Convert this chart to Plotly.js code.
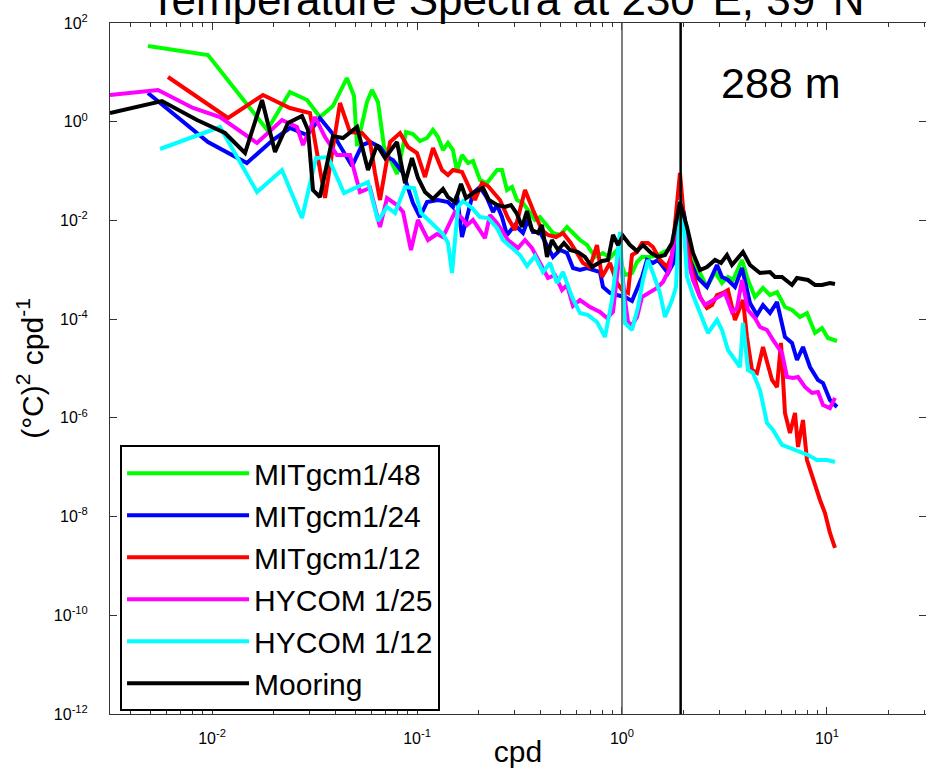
<!DOCTYPE html>
<html>
<head>
<meta charset="utf-8">
<script src="https://cdn.plot.ly/plotly-3.0.1.min.js"></script>
<style>html,body{margin:0;padding:0;background:#fff;}#chart{width:926px;height:768px;}</style>
</head>
<body>
<div id="chart"></div>
<script>
// ---- Series names ----
const seriesNames = ["MITgcm1/48", "MITgcm1/24", "MITgcm1/12", "HYCOM 1/25", "HYCOM 1/12", "Mooring"];
const seriesColors = ["#00ff00", "#0000ff", "#ff0000", "#ff00ff", "#00ffff", "#000000"];

// ---- MITgcm 1/48 ----
const freqMIT48 = [0.00487,0.00956,0.0186,0.0240,0.0291,0.0336,0.0389,0.0455,0.0493,0.0510,0.0570,0.0603,0.0645,0.0690,0.0799,0.0884,0.0956,0.1034,0.1119,0.1197,0.1266,0.1339,0.1416,0.1498,0.1567,0.1658,0.1774,0.1876,0.2029,0.2195,0.2456,0.2597,0.2748,0.2907,0.3075,0.3289,0.3479,0.3763,0.3981,0.4306,0.4606,0.4985,0.5392,0.5768,0.6238,0.675,0.7385,0.8078,0.8739,0.9454,1.034,1.119,1.184,1.252,1.369,1.498,1.676,1.814,1.918,2.006,2.146,2.402,2.597,2.843,3.075,3.289,3.479,3.850,4.118,4.455,4.873,5.272,5.704,6.238,6.750,7.385,7.988,8.739,9.454,10.11,11.19];
const specMIT48 = [34.2,22.4,0.679,4.0,2.75,1.245,2.08,7.68,3.32,0.322,2.51,4.39,2.51,0.322,0.0872,0.618,0.563,0.406,0.468,0.679,0.490,0.267,0.370,0.267,0.1003,0.2115,0.1456,0.160,0.0659,0.0573,0.1051,0.1051,0.0413,0.0475,0.0259,0.0225,0.01626,0.0102,0.01173,0.00808,0.00556,0.00507,0.00736,0.00556,0.00401,0.00318,0.00182,0.00219,0.00173,0.00252,0.000784,0.00086,0.00144,0.00182,0.00182,0.00199,0.00252,0.00401,0.0225,0.01288,0.00182,0.00086,0.000448,0.000902,0.00054,0.000714,0.000621,0.00158,0.000621,0.000281,0.000427,0.000308,0.000355,0.000176,0.000153,0.00011,0.000133,5.24e-5,6.61e-5,4.15e-5,3.61e-5];

// ---- MITgcm 1/24 ----
const freqMIT24 = [0.00487,0.00956,0.0148,0.0198,0.0240,0.0291,0.0336,0.0389,0.0482,0.0539,0.0590,0.0660,0.0714,0.0764,0.0855,0.0956,0.1034,0.1119,0.1266,0.1416,0.1498,0.1567,0.1658,0.1774,0.1876,0.2029,0.2195,0.2348,0.2456,0.2597,0.2748,0.3006,0.3289,0.3479,0.3680,0.3981,0.4306,0.4606,0.4985,0.5392,0.5768,0.6238,0.675,0.7811,0.8078,0.8739,0.9454,1.034,1.119,1.184,1.252,1.324,1.416,1.498,1.585,1.676,1.814,1.918,2.006,2.146,2.322,2.597,2.907,3.075,3.289,3.558,3.850,4.211,4.554,4.873,5.272,5.704,6.238,6.750,7.140,7.636,8.263,9.041,9.561,10.34,11.19];
const specMIT24 = [3.815,0.388,0.1456,0.426,0.745,0.538,1.188,0.563,0.1266,0.337,0.388,0.307,0.1927,0.1675,0.0913,0.0225,0.01173,0.0236,0.0259,0.0236,0.0187,0.0327,0.00461,0.01288,0.0359,0.0475,0.02846,0.01481,0.02053,0.01173,0.00507,0.00808,0.00556,0.0102,0.00583,0.00583,0.00318,0.00182,0.00252,0.00219,0.001086,0.00099,0.001086,0.000902,0.000448,0.000339,0.000308,0.000281,0.000233,0.000389,0.000714,0.00158,0.001372,0.00158,0.001138,0.00086,0.00158,0.0225,0.01414,0.00158,0.000714,0.000448,0.00125,0.000714,0.000621,0.000448,0.001086,0.000212,0.000121,0.000193,0.000133,0.000222,4.35e-5,3.29e-5,1.487e-5,2.73e-5,1.072e-5,5.85e-6,5.08e-6,2.30e-6,1.66e-6];

// ---- MITgcm 1/12 ----
const freqMIT12 = [0.0061,0.01197,0.01774,0.0240,0.03006,0.03289,0.03558,0.04211,0.04711,0.0539,0.0590,0.06238,0.0660,0.07385,0.08263,0.09041,0.1,0.1094,0.1197,0.1324,0.1416,0.1498,0.1658,0.1774,0.1918,0.2076,0.2220,0.2540,0.2779,0.3006,0.3364,0.3680,0.4071,0.4355,0.4764,0.5154,0.5576,0.6033,0.6452,0.6982,0.7551,0.7988,0.8739,0.9454,1.0,1.070,1.119,1.184,1.252,1.339,1.416,1.532,1.658,1.754,1.918,2.029,2.195,2.402,2.597,2.748,2.907,3.110,3.289,3.558,3.892,4.071,4.306,4.554,4.873,5.392,5.704,5.965,6.238,6.598,6.982,7.222,7.636,7.988,8.545,9.245,9.777,10.34,10.94];
const specMIT12 = [8.05,1.188,3.474,1.895,1.501,0.1675,0.02846,2.392,0.618,0.590,0.388,0.0913,0.0259,0.388,0.590,0.307,0.2322,0.0758,0.2933,0.1051,0.0832,0.1051,0.0957,0.0522,0.0259,0.0573,0.0498,0.0259,0.01119,0.0064,0.0413,0.01626,0.0064,0.00507,0.00461,0.00556,0.003654,0.00219,0.001372,0.001138,0.00318,0.000714,0.001372,0.00054,0.000389,0.000339,0.00199,0.002293,0.003489,0.003489,0.002893,0.00158,0.001138,0.00199,0.0913,0.0064,0.00099,0.000281,0.000168,0.000193,0.000308,0.000339,0.000389,9.61e-5,0.000244,4.35e-5,9.32e-6,8.11e-6,2.73e-5,5.85e-6,4.22e-6,3.29e-5,1.254e-6,4.93e-7,1.254e-6,2.57e-7,9.05e-7,1.40e-7,5.51e-8,2.17e-8,1.18e-8,4.65e-9,2.31e-9];

// ---- HYCOM 1/25 ----
const freqHY25 = [0.00318,0.00545,0.00808,0.01094,0.01658,0.02195,0.02597,0.02779,0.03180,0.03558,0.04071,0.04711,0.05272,0.0590,0.0660,0.0714,0.0799,0.0855,0.09347,0.1011,0.1132,0.1252,0.1339,0.1532,0.1658,0.1754,0.1876,0.2146,0.2270,0.2456,0.2627,0.2779,0.3110,0.3364,0.3639,0.3892,0.4355,0.4711,0.5097,0.5392,0.5768,0.6238,0.6982,0.7811,0.8450,0.9041,0.978,1.034,1.070,1.119,1.184,1.252,1.369,1.482,1.585,1.714,1.918,2.006,2.076,2.220,2.402,2.540,2.687,2.907,3.180,3.440,3.639,3.850,4.118,4.455,4.711,5.097,5.453,6.033,6.381,6.829,7.222,7.811,8.450,9.041,9.561,10.34,10.94];
const specHY25 = [3.474,4.387,1.895,1.245,0.370,1.083,0.781,0.337,1.245,0.490,0.2115,0.2115,0.03765,0.04537,0.00736,0.02846,0.02053,0.01481,0.00252,0.0102,0.00401,0.00531,0.00461,0.01481,0.01119,0.00808,0.0102,0.0044,0.01288,0.00887,0.00583,0.00401,0.00276,0.00401,0.00276,0.00158,0.000681,0.000784,0.000389,0.000492,0.000185,0.000244,0.000176,0.00014,0.000105,0.00014,0.00252,0.000244,8.75e-5,7.61e-5,0.00011,0.000281,0.000355,0.000427,0.000566,0.001086,0.02053,0.0102,0.00182,0.000621,0.000281,0.000193,0.000222,0.000268,0.000339,0.00014,0.000168,0.000621,0.000153,0.000105,6.93e-5,6.03e-5,3.78e-5,2.06e-5,6.73e-6,6.42e-6,6.73e-6,4.22e-6,3.19e-6,3.34e-6,1.82e-6,1.58e-6,2.53e-6];

// ---- HYCOM 1/12 ----
const freqHY12 = [0.00558,0.01094,0.01658,0.02195,0.02748,0.03217,0.03680,0.04405,0.05768,0.0645,0.0714,0.07811,0.08739,0.09669,0.1046,0.1197,0.1339,0.1416,0.1482,0.1585,0.1676,0.1855,0.2029,0.2220,0.2456,0.2627,0.2907,0.3180,0.3440,0.3763,0.4118,0.4455,0.4818,0.5154,0.5704,0.6238,0.6829,0.7551,0.8263,0.8937,0.978,1.034,1.119,1.197,1.266,1.339,1.416,1.532,1.621,1.754,1.834,1.918,2.006,2.076,2.220,2.402,2.627,2.907,3.075,3.289,3.558,3.763,3.892,4.118,4.355,4.711,5.097,5.453,6.033,6.598,7.385,8.078,8.937,10.0,10.94];
const specHY12 = [0.280,0.781,0.03765,0.1051,0.01119,0.1839,0.1927,0.0359,0.0600,0.00974,0.0187,0.01414,0.0475,0.04537,0.01414,0.00808,0.00531,0.003489,0.00086,0.0187,0.02473,0.01785,0.01173,0.01119,0.00702,0.00401,0.00276,0.00199,0.001193,0.0019,0.000902,0.001372,0.00054,0.000902,0.000281,0.000133,0.000121,8.75e-5,4.35e-5,0.000244,0.00583,8.35e-5,6.03e-5,0.000176,0.000621,0.00158,0.00086,0.000339,0.00011,0.000244,0.000448,0.0259,0.0064,0.000714,0.000308,0.000133,5.24e-5,9.61e-5,6.03e-5,2.37e-5,1.487e-5,1.072e-5,8.35e-5,9.32e-6,8.11e-6,3.67e-6,7.87e-7,5.68e-7,2.82e-7,2.45e-7,2.03e-7,1.77e-7,1.40e-7,1.40e-7,1.275e-7];

// ---- Mooring ----
const freqMooring = [0.00318,0.00570,0.00845,0.01157,0.01449,0.01754,0.02029,0.02348,0.02748,0.02940,0.03110,0.0336,0.0389,0.04355,0.0510,0.05768,0.06381,0.06982,0.0799,0.08739,0.09454,0.1011,0.1094,0.1197,0.1339,0.1416,0.1532,0.1639,0.1734,0.1876,0.2099,0.2245,0.2456,0.2687,0.2874,0.3075,0.3252,0.3440,0.3639,0.3892,0.4071,0.4306,0.4554,0.4873,0.5213,0.5576,0.6101,0.6598,0.7140,0.7988,0.8545,0.9041,0.956,1.011,1.094,1.184,1.266,1.385,1.498,1.621,1.754,1.918,2.076,2.220,2.402,2.597,2.843,3.041,3.252,3.440,3.892,4.211,4.711,5.272,5.576,6.033,6.750,7.140,8.078,8.739,9.454,10.34,10.94];
const specMooring = [1.501,2.627,1.083,0.590,0.2322,2.752,0.2433,0.941,1.305,0.679,0.0413,0.02981,0.513,0.468,0.781,0.1051,0.337,0.1839,0.388,0.0573,0.1839,0.0724,0.03765,0.02716,0.04331,0.02981,0.0236,0.0547,0.02846,0.0359,0.04537,0.0259,0.02053,0.0187,0.02053,0.0135,0.00736,0.01552,0.0064,0.00556,0.00808,0.00182,0.00401,0.00252,0.003489,0.00252,0.002293,0.00182,0.001138,0.001508,0.00158,0.00507,0.00318,0.00484,0.00318,0.0024,0.00318,0.00219,0.00182,0.00199,0.003489,0.0236,0.00736,0.00219,0.00099,0.001138,0.00158,0.001372,0.00199,0.00125,0.002293,0.00125,0.00086,0.000902,0.000714,0.000714,0.000492,0.000681,0.000621,0.000492,0.000492,0.00054,0.000515];

// ---- Reference frequencies (vertical lines), axis ticks, labels ----
const tidalLines = [1.0, 1.9323];
const xTickVals = [0.01, 0.1, 1, 10];
const xTickText = ["10<sup>-2</sup>", "10<sup>-1</sup>", "10<sup>0</sup>", "10<sup>1</sup>"];
const yTickVals = [1e2, 1e0, 1e-2, 1e-4, 1e-6, 1e-8, 1e-10, 1e-12];
const yTickText = ["10<sup>2</sup>", "10<sup>0</sup>", "10<sup>-2</sup>", "10<sup>-4</sup>", "10<sup>-6</sup>", "10<sup>-8</sup>", "10<sup>-10</sup>", "10<sup>-12</sup>"];
const titleText = "Temperature Spectra at 230°E, 39°N";
const depthLabel = "288 m";

const xs = [freqMIT48, freqMIT24, freqMIT12, freqHY25, freqHY12, freqMooring];
const ys = [specMIT48, specMIT24, specMIT12, specHY25, specHY12, specMooring];

const traces = seriesNames.map((name, i) => ({
  type: 'scatter', mode: 'lines', name: name,
  x: xs[i], y: ys[i],
  line: {color: seriesColors[i], width: 4},
  hoverinfo: 'skip'
}));

const font = "Liberation Sans, Arial, sans-serif";

const layout = {
  width: 926, height: 768,
  margin: {l: 110, r: 0, t: 23, b: 54},
  paper_bgcolor: '#ffffff', plot_bgcolor: '#ffffff',
  font: {family: font, color: '#000'},
  showlegend: true,
  title: {
    text: titleText, font: {family: font, size: 44, color: '#000'},
    xref: 'container', x: 0.5475, xanchor: 'center',
    yref: 'container', y: 1, yanchor: 'middle'
  },
  xaxis: {
    type: 'log', range: [-2.4976, 1.483],
    showline: true, linecolor: '#333', linewidth: 1, mirror: 'ticks',
    ticks: 'inside', ticklen: 7, tickcolor: '#333',
    tickmode: 'array', tickvals: xTickVals, ticktext: xTickText,
    tickfont: {family: font, size: 16}, ticklabelstandoff: 10,
    minor: {dtick: 'D1', ticks: 'inside', ticklen: 4, tickcolor: '#333', showgrid: false},
    showgrid: false, zeroline: false,
    title: {text: 'cpd', font: {family: font, size: 30}, standoff: 0}
  },
  yaxis: {
    type: 'log', range: [-12, 2],
    showline: true, linecolor: '#333', linewidth: 1, mirror: 'ticks',
    ticks: 'inside', ticklen: 7, tickcolor: '#333',
    tickmode: 'array', tickvals: yTickVals, ticktext: yTickText,
    tickfont: {family: font, size: 16}, ticklabelstandoff: 18,
    showgrid: false, zeroline: false,
    title: {text: '(°C)<sup>2</sup> cpd<sup>-1</sup>', font: {family: font, size: 30}, standoff: 1}
  },
  legend: {
    x: 0.0123, y: 0.389, xanchor: 'left', yanchor: 'top',
    bgcolor: '#ffffff', bordercolor: '#000', borderwidth: 2,
    font: {family: font, size: 30, color: '#000'},
    itemwidth: 122, tracegroupgap: 0
  },
  shapes: tidalLines.map((f, i) => ({
    type: 'line', xref: 'x', yref: 'paper', x0: f, x1: f, y0: 0, y1: 1,
    line: {color: i === 0 ? '#555555' : '#000000', width: i === 0 ? 1.5 : 2.5},
    layer: 'above'
  })),
  annotations: [{
    text: depthLabel, xref: 'paper', yref: 'paper', x: 0.822, y: 0.913,
    xanchor: 'center', yanchor: 'middle', showarrow: false,
    font: {family: font, size: 43, color: '#000'}
  }]
};

Plotly.newPlot('chart', traces, layout, {displayModeBar: false, staticPlot: true});
</script>
</body>
</html>
